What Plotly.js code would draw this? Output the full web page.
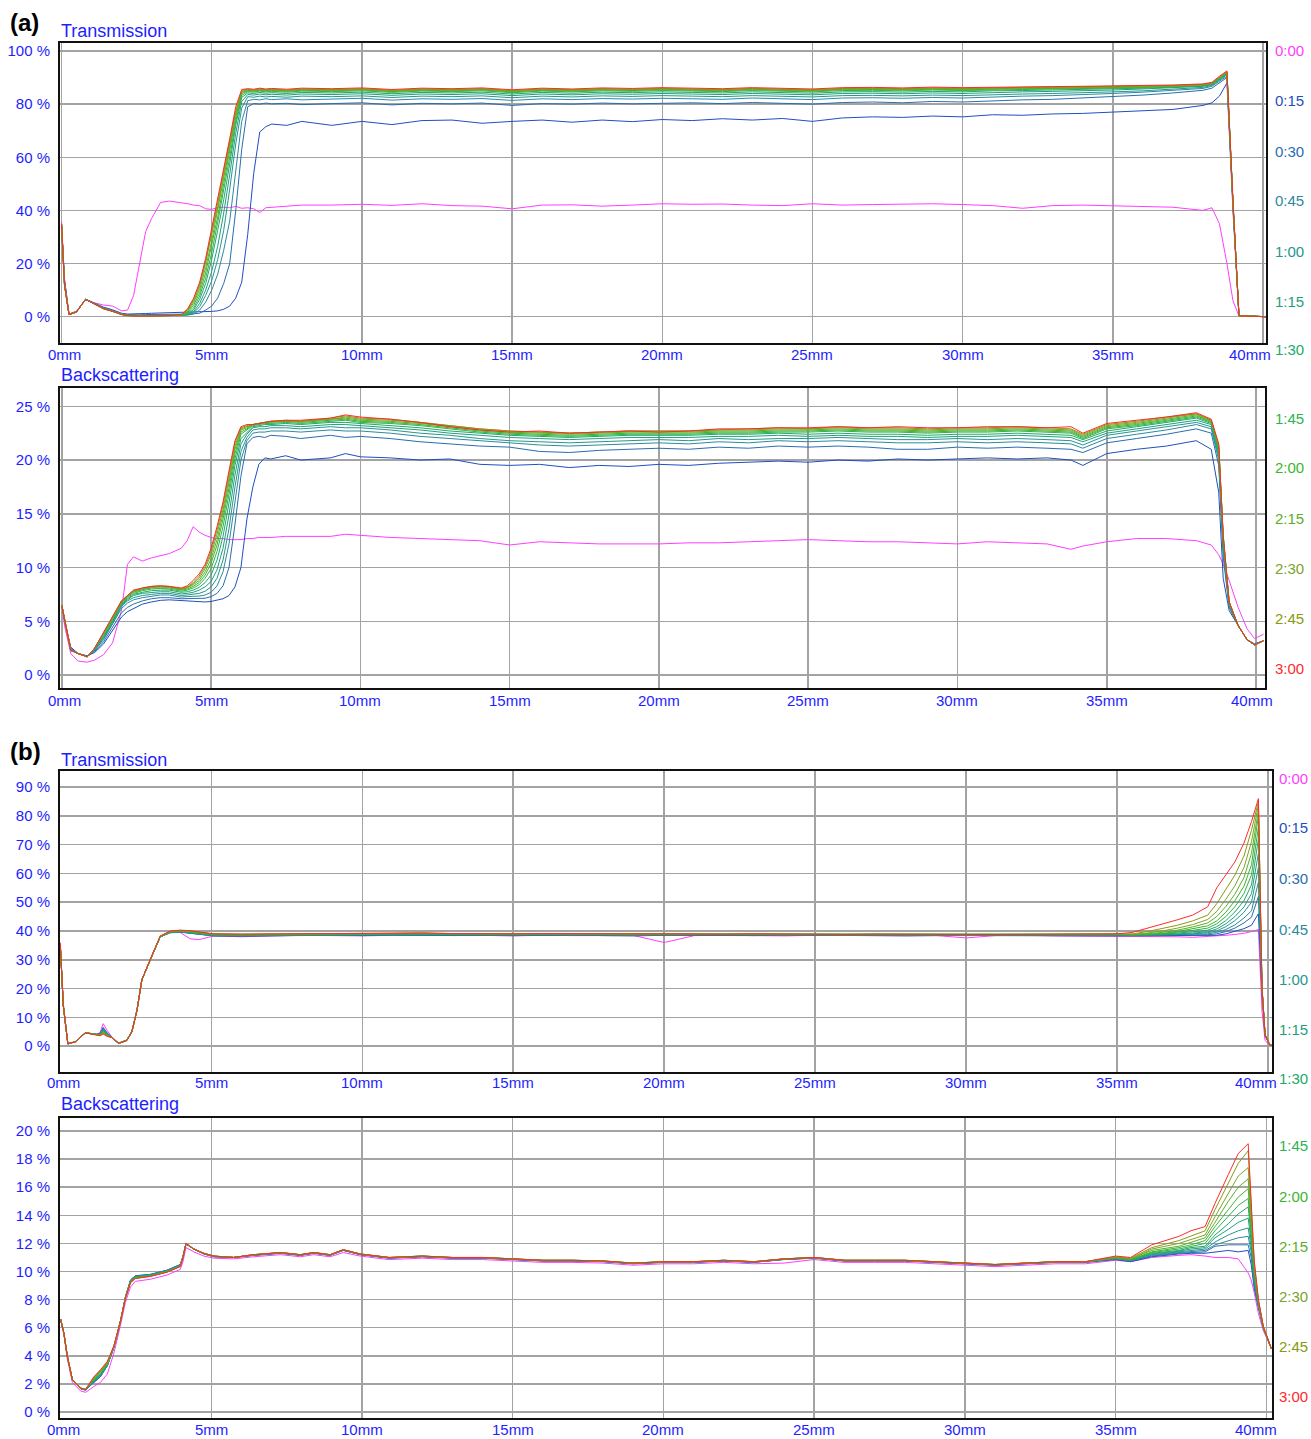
<!DOCTYPE html>
<html><head><meta charset="utf-8">
<script src="https://cdn.plot.ly/plotly-3.0.1.min.js"></script>
<style>html,body{margin:0;padding:0;background:#fff}#chart{width:1311px;height:1439px}</style>
</head><body><div id="chart"></div>
<script>
const TIME_LABELS = ['0:00','0:15','0:30','0:45','1:00','1:15','1:30','1:45','2:00','2:15','2:30','2:45','3:00'];
const SERIES_COLORS = ['#ff3dff','#1f4fbf','#2a6db0','#2d8a9e','#26968f','#1fa07d','#22a868','#2db34f','#3cb52a','#5cae2a','#7aa42a','#8a9a10','#ff2a2a'];
const X_TICKS = [0,5,10,15,20,25,30,35,40];
const X_TICK_TEXT = ['0mm','5mm','10mm','15mm','20mm','25mm','30mm','35mm','40mm'];
const Y_TICKS_AT = [0,20,40,60,80,100];
const Y_TICKS_AB = [0,5,10,15,20,25];
const Y_TICKS_BT = [0,10,20,30,40,50,60,70,80,90];
const Y_TICKS_BB = [0,2,4,6,8,10,12,14,16,18,20];

// ---------- (a) Transmission ----------
const aT_x = [0,0.1,0.25,0.5,0.8,1.1,1.4,1.7, 2.0,2.2,2.4,2.6,2.8,3.0,3.3,3.6,
 4.0,4.2,4.4,4.6,4.8,5.0,5.2,5.4,5.6,5.8,6.0,6.2,6.4,6.6,6.8,7.0, 7.5,8,
 9,10,11,12,13,14,15,16,17,18,19,20,21,22,23,24,25,26,27,28,29,30,31,32,33,34,35,36,37,38,
 38.3,38.55,38.8,39.0,39.2,40.1];
const aT_000 = [36,14,1,2,6.5,5.2,4.4,4.0, 2.2,2.5,8,20,32,37,43,43.5,
 43,42.5,42,41.8,40.6,40.4,41,41.2,41,41.5,40.8,41,40.6,39.2,41,41.2, 41.5,42,
 42,42.3,41.9,42.5,41.8,41.6,40.6,42,42.1,41.6,42,42.5,42.3,42.4,42,41.8,42.5,42,42.2,42.3,42.5,42.2,41.8,40.8,41.8,42,41.8,41.5,41.2,40,
 41,35,20,6,0.3,0];
const aT_015 = [35,14,1,2,6.6,5,3.6,2.6, 1.3,1.0,1.0,1.1,1.2,1.3,1.4,1.5,
 1.5,1.6,1.7,1.8,1.9,2,2.2,2.8,4,7,13,31,54,69.5,71.5,72.5, 72,73.5,
 72,73.5,72.3,73.8,74,72.8,73.5,74,73.2,74,73.4,74.2,73.8,74.5,74,74.6,73.5,74.8,75.2,75,75.5,75.2,76,75.8,76.3,76.5,77,77.4,78,79.5,
 80.5,83,88,40,0.5,0];
const aT_030 = [35,13,0.9,1.9,6.5,4.9,3.3,2.3, 1.1,0.8,0.7,0.7,0.8,0.8,0.9,1.0,
 1.0,1.0,1.1,1.3,2.5,4,7,12.5,20,40,63,79,80.2,80,80.4,80.1, 80.3,79.8,
 80.2,80.5,79.7,80.3,80.1,80.4,79.5,80.2,80,80.4,80.1,80.3,80.5,80.2,80.6,80.3,80,80.6,80.8,80.5,81,80.8,81.3,81.6,81.8,82.3,82.8,83.4,84.2,85.2,
 86,88,90,42,0.4,0];
const aT_045 = [35,12.5,0.8,1.8,6.5,4.8,3.2,2.2, 1.0,0.6,0.5,0.4,0.4,0.4,0.5,0.6,
 0.6,0.6,1,2.5,5.5,10,16,25,36,56,73.5,81.3,81.8,81.6,82,81.7, 82,81.6,
 81.9,82.2,81.5,82,81.8,82.1,81.4,82,81.7,82.1,81.9,82.2,82,81.8,82.3,82,81.7,82.3,82.4,82.2,82.5,82.3,82.7,83,83.2,83.5,84,84.5,85.1,85.9,
 86.7,88.5,90.5,42,0.4,0];
const aT_100 = [35,12,0.8,1.8,6.5,4.8,3.2,2.2, 1.0,0.6,0.4,0.4,0.3,0.4,0.4,0.5,
 0.6,0.7,1.4,3.8,8,13.5,21.5,32.5,48,65,78.5,82.8,82.6,83,82.7,82.9, 82.6,83,
 82.8,83.1,82.5,83,82.8,83.1,82.4,83,82.7,83.1,82.9,83.2,83,82.8,83.2,83,82.7,83.2,83.3,83.1,83.4,83.2,83.6,83.8,84,84.2,84.6,85,85.6,86.3,
 87,89,91,43,0.4,0];
const aT_115 = [35,12,0.8,1.8,6.5,4.8,3.1,2.1, 0.9,0.6,0.4,0.3,0.3,0.3,0.4,0.5,
 0.6,0.8,1.9,5,10,17,26.5,39,53.5,69,81,83.6,83.4,83.8,83.5,83.7, 83.4,83.8,
 83.6,83.9,83.3,83.8,83.6,83.9,83.2,83.8,83.5,83.9,83.7,84,83.8,83.6,84,83.8,83.5,84,84.1,83.9,84.2,84,84.4,84.6,84.8,85,85.3,85.7,86.2,86.7,
 87.3,89.3,91.3,43,0.3,0];
const aT_130 = [35,12,0.8,1.8,6.5,4.8,3.1,2.1, 0.9,0.5,0.3,0.3,0.3,0.3,0.4,0.5,
 0.6,0.9,2.6,6.5,12.5,21.5,32.5,44,57.5,72,82.5,84.2,84,84.4,84.1,84.3, 84,84.4,
 84.2,84.5,83.9,84.4,84.2,84.5,83.8,84.4,84.1,84.5,84.3,84.6,84.4,84.2,84.6,84.4,84.1,84.6,84.7,84.5,84.8,84.6,85,85.1,85.3,85.5,85.7,86,86.4,86.9,
 87.5,89.5,91.5,43,0.3,0];
const aT_145 = [35,12,0.8,1.8,6.5,4.8,3.1,2.1, 0.9,0.5,0.3,0.3,0.3,0.3,0.4,0.5,
 0.6,1.2,3.3,7.8,14.5,24,35.5,47.5,60,73.5,83.3,84.7,84.5,84.9,84.6,84.8, 84.5,84.9,
 84.7,85,84.4,84.9,84.7,85,84.3,84.9,84.6,85,84.8,85.1,84.9,84.7,85.1,84.9,84.6,85.1,85.2,85,85.3,85.1,85.4,85.5,85.7,85.8,86,86.3,86.6,87,
 87.6,89.7,91.7,43,0.3,0];
const aT_200 = [35,12,0.8,1.8,6.5,4.8,3.0,2.1, 0.9,0.5,0.3,0.2,0.3,0.3,0.3,0.5,
 0.6,1.6,4.3,9,16.5,26.5,37.5,50,62.5,75,84,85,84.8,85.2,84.9,85.1, 84.8,85.2,
 85,85.3,84.7,85.2,85,85.3,84.6,85.2,84.9,85.3,85.1,85.4,85.2,85,85.4,85.2,84.9,85.4,85.5,85.3,85.6,85.4,85.7,85.8,85.9,86,86.2,86.4,86.7,87.1,
 87.7,89.8,91.8,43,0.3,0];
const aT_215 = [35,12,0.8,1.8,6.5,4.8,3.0,2.0, 0.9,0.5,0.3,0.2,0.2,0.3,0.3,0.4,
 0.6,2,5.2,10.3,18.5,28.5,40,52,64,76,84.4,85.2,85,85.4,85.1,85.3, 85,85.4,
 85.2,85.5,84.9,85.4,85.2,85.5,84.8,85.4,85.1,85.5,85.3,85.6,85.4,85.2,85.6,85.4,85.1,85.6,85.7,85.5,85.8,85.6,85.9,86,86.1,86.2,86.3,86.5,86.8,87.2,
 87.8,90,92,43,0.3,0];
const aT_230 = [35,12,0.8,1.8,6.5,4.8,3.0,2.0, 0.8,0.4,0.2,0.2,0.2,0.2,0.3,0.4,
 0.7,2.4,5.9,11.4,20.5,30.5,41.5,53.5,65,77,84.8,85.4,85.2,85.6,85.3,85.5, 85.2,85.6,
 85.4,85.7,85.1,85.6,85.4,85.7,85,85.6,85.3,85.7,85.5,85.8,85.6,85.4,85.8,85.6,85.3,85.8,85.9,85.7,86,85.8,86.1,86.2,86.3,86.4,86.5,86.6,86.9,87.3,
 87.9,90,92,43,0.3,0];
const aT_245 = [35,12,0.8,1.8,6.5,4.8,3.0,2.0, 0.8,0.4,0.2,0.2,0.2,0.2,0.3,0.4,
 0.7,2.7,6.5,12.2,21,31.5,43,54.8,66,77.5,85.2,85.6,85.3,85.7,85.4,85.6, 85.3,85.7,
 85.5,85.8,85.2,85.7,85.5,85.8,85.1,85.7,85.4,85.8,85.6,85.9,85.7,85.5,85.9,85.7,85.4,85.9,86,85.8,86.1,85.9,86.2,86.3,86.4,86.5,86.6,86.7,87,87.4,
 88,90.2,92.2,43,0.3,0];
const aT_300 = [35,12,0.8,1.8,6.5,4.8,3.0,2.0, 0.8,0.4,0.2,0.2,0.2,0.2,0.3,0.4,
 0.8,3,7,13,22,33,44,56,67,79,85.5,85.8,85.6,86,85.7,85.9, 85.6,86,
 85.8,86.1,85.5,86,85.8,86.1,85.4,86,85.7,86.1,85.9,86.2,86,85.8,86.2,86,85.7,86.2,86.3,86.1,86.4,86.2,86.4,86.5,86.6,86.7,86.8,86.9,87.2,87.6,
 88.2,90.5,92.5,44,0.3,0];

// ---------- (a) Backscattering ----------
const aB_x = [0,0.1,0.3,0.55,0.85,1.1,1.4,1.7, 2.0,2.2,2.4,2.7,3.0,3.3,3.6,
 4.0,4.2,4.4,4.6,4.8,5.0,5.2,5.4,5.6,5.8,6.0,6.2,6.4,6.6,6.8,7.0, 7.5,8, 9,9.5,10,
 11,12,13,14,15,16,17,18,19,20,21,22,23,24,25,26,27,28,29,30,31,32,33, 33.8,34.2, 35,36,37,38,
 38.5,38.75,38.9,39.1,39.4,39.7,39.95,40.25];
const aB_000 = [6.5,4.5,2.0,1.3,1.2,1.4,1.9,3.0, 6.0,10.3,11.0,10.6,10.9,11.1,11.3,
 11.8,12.5,13.8,13.3,13.0,12.8,12.7,12.7,12.6,12.6,12.6,12.7,12.7,12.8,12.8,12.8, 12.9,12.9, 12.9,13.1,13.0,
 12.8,12.7,12.6,12.5,12.1,12.4,12.3,12.2,12.2,12.2,12.3,12.3,12.4,12.5,12.6,12.5,12.4,12.4,12.3,12.2,12.4,12.3,12.2, 11.7,12.0, 12.4,12.7,12.7,12.5,
 12.1,11.2,10.3,8.8,6.3,4.3,3.4,3.8];
const aB_015 = [6.5,5,2.6,2.0,1.8,2.1,2.9,4.1, 5.4,5.9,6.2,6.6,6.8,6.95,7.0,
 6.95,6.9,6.9,6.85,6.8,6.85,6.95,7.1,7.4,8.2,10,14.5,17.5,19.6,20.2,20.1, 20.4,20.0, 20.2,20.6,20.3,
 20.2,20.0,20.1,19.6,19.5,19.6,19.3,19.5,19.4,19.6,19.5,19.7,19.8,19.9,19.8,20.0,19.9,20.1,20.0,20.1,20.2,20.1,20.2, 20.0,19.5, 20.6,21.0,21.3,21.8,
 21.0,17,9,6,4.6,3.3,2.9,3.2];
const aB_030 = [6.5,5,2.5,2.0,1.75,2.2,3.1,4.4, 5.8,6.3,6.6,6.9,7.1,7.2,7.2,
 7.1,7.1,7.1,7.1,7.15,7.3,7.6,8.3,10,14,18.5,21.5,22.1,22.2,22.1,22.3, 22.2,22.0, 22.3,22.1,22.2,
 22.0,21.7,21.5,21.3,21.2,20.8,20.7,20.9,21.0,21.1,21.0,21.2,21.1,21.3,21.2,21.3,21.2,21.0,21.0,21.2,21.1,21.2,21.1, 21.0,20.7, 21.6,22.0,22.4,22.9,
 22.5,19.5,11,6.3,4.6,3.3,2.85,3.2];
const aB_045 = [6.5,5,2.4,2.0,1.75,2.3,3.3,4.7, 6.2,6.7,7.0,7.2,7.35,7.45,7.45,
 7.25,7.3,7.3,7.35,7.45,7.7,8.3,9.6,12.2,16.2,20,21.8,22.5,22.6,22.6,22.7, 22.7,22.6, 22.8,22.7,22.7,
 22.5,22.2,22.0,21.8,21.6,21.4,21.3,21.4,21.5,21.6,21.5,21.7,21.6,21.8,21.7,21.8,21.7,21.6,21.6,21.7,21.6,21.7,21.6, 21.5,21.1, 22.0,22.4,22.8,23.3,
 22.9,20,11.5,6.4,4.6,3.3,2.85,3.2];
const aB_100 = [6.5,5,2.4,2.0,1.7,2.3,3.4,4.8, 6.4,6.9,7.2,7.4,7.5,7.6,7.6,
 7.4,7.45,7.5,7.6,7.8,8.2,9,10.7,13.6,17.5,20.8,22.1,22.8,22.9,22.9,23.0, 23.0,22.9, 23.1,23.0,23.0,
 22.8,22.5,22.3,22.0,21.8,21.7,21.6,21.7,21.8,21.9,21.8,22.0,21.9,22.0,22.0,22.1,22.0,21.9,21.9,22.0,21.9,22.0,21.9, 21.8,21.4, 22.3,22.7,23.1,23.5,
 23.1,20.3,12,6.5,4.6,3.3,2.85,3.2];
const aB_115 = [6.5,5,2.3,2.0,1.7,2.4,3.5,4.9, 6.5,7.0,7.4,7.6,7.7,7.75,7.75,
 7.55,7.6,7.7,7.9,8.2,8.7,9.8,11.8,14.9,18.6,21.5,22.4,23.0,23.1,23.1,23.2, 23.2,23.1, 23.3,23.3,23.2,
 23.0,22.8,22.5,22.3,22.1,22.0,21.9,22.0,22.1,22.1,22.1,22.2,22.2,22.3,22.2,22.3,22.2,22.2,22.1,22.2,22.2,22.3,22.2, 22.1,21.7, 22.5,22.9,23.3,23.7,
 23.3,20.6,12.3,6.6,4.6,3.3,2.8,3.2];
const aB_130 = [6.5,5,2.3,2.0,1.7,2.4,3.6,5.0, 6.6,7.1,7.5,7.7,7.85,7.9,7.9,
 7.7,7.75,7.9,8.15,8.6,9.3,10.7,12.9,16,19.5,22,22.6,23.1,23.2,23.3,23.3, 23.4,23.3, 23.5,23.5,23.4,
 23.2,23.0,22.7,22.5,22.3,22.2,22.1,22.2,22.3,22.3,22.3,22.4,22.4,22.5,22.4,22.5,22.4,22.4,22.3,22.4,22.4,22.5,22.4, 22.3,21.9, 22.7,23.1,23.5,23.9,
 23.4,20.8,12.5,6.7,4.6,3.3,2.8,3.2];
const aB_145 = [6.5,5,2.3,2.0,1.7,2.5,3.7,5.1, 6.7,7.2,7.6,7.85,8.0,8.05,8.0,
 7.8,7.9,8.1,8.4,9.0,9.9,11.5,13.8,16.8,20.1,22.4,22.8,23.2,23.3,23.4,23.4, 23.5,23.4, 23.6,23.7,23.5,
 23.4,23.2,22.9,22.6,22.4,22.3,22.2,22.3,22.4,22.4,22.4,22.5,22.5,22.6,22.6,22.7,22.6,22.6,22.5,22.6,22.6,22.7,22.6, 22.5,22.0, 22.9,23.2,23.6,24.0,
 23.5,21,12.7,6.7,4.6,3.3,2.8,3.2];
const aB_200 = [6.5,5,2.3,2.0,1.7,2.5,3.8,5.2, 6.8,7.3,7.7,7.95,8.1,8.1,8.1,
 7.9,8.0,8.25,8.6,9.3,10.4,12.1,14.5,17.4,20.6,22.6,22.9,23.3,23.4,23.5,23.5, 23.6,23.5, 23.7,23.8,23.6,
 23.5,23.3,23.0,22.7,22.5,22.4,22.3,22.4,22.5,22.5,22.5,22.6,22.6,22.7,22.7,22.8,22.7,22.7,22.6,22.7,22.7,22.8,22.7, 22.6,22.1, 23.0,23.3,23.7,24.1,
 23.6,21.1,12.8,6.8,4.6,3.3,2.8,3.2];
const aB_215 = [6.5,5,2.3,2.0,1.7,2.5,3.9,5.3, 6.8,7.3,7.75,8.0,8.15,8.2,8.15,
 7.95,8.1,8.4,8.8,9.6,10.8,12.6,15,17.9,21,22.8,23,23.3,23.4,23.5,23.6, 23.6,23.6, 23.8,23.9,23.7,
 23.6,23.4,23.1,22.8,22.6,22.5,22.4,22.5,22.6,22.6,22.6,22.7,22.7,22.8,22.8,22.9,22.8,22.8,22.7,22.8,22.8,22.9,22.8, 22.7,22.2, 23.1,23.4,23.8,24.2,
 23.6,21.2,12.9,6.8,4.6,3.3,2.8,3.2];
const aB_230 = [6.5,5,2.3,2.0,1.7,2.5,3.9,5.3, 6.9,7.35,7.8,8.05,8.2,8.25,8.2,
 8.0,8.15,8.5,9.0,9.9,11.2,13.1,15.4,18.3,21.3,22.9,23.1,23.3,23.4,23.5,23.6, 23.6,23.6, 23.8,24.0,23.8,
 23.7,23.5,23.2,22.9,22.7,22.6,22.5,22.6,22.7,22.7,22.7,22.8,22.8,22.9,22.9,23.0,22.9,22.9,22.8,22.9,22.9,23.0,22.9, 22.8,22.3, 23.2,23.5,23.9,24.3,
 23.7,21.3,13,6.8,4.6,3.3,2.8,3.2];
const aB_245 = [6.5,5,2.3,2.0,1.7,2.5,4.0,5.4, 6.9,7.4,7.85,8.1,8.25,8.3,8.25,
 8.05,8.2,8.6,9.2,10.1,11.5,13.5,15.8,18.7,21.6,23,23.2,23.3,23.4,23.5,23.6, 23.7,23.6, 23.9,24.1,23.9,
 23.8,23.5,23.2,22.9,22.7,22.6,22.5,22.6,22.7,22.7,22.7,22.8,22.9,23.0,22.9,23.1,23.0,23.0,22.9,23.0,23.0,23.1,23.0, 22.9,22.4, 23.3,23.6,24.0,24.3,
 23.7,21.4,13,6.8,4.6,3.3,2.8,3.2];
const aB_300 = [6.5,5,2.3,2.0,1.7,2.5,4.0,5.4, 6.9,7.4,7.9,8.1,8.25,8.3,8.25,
 8.1,8.3,8.8,9.4,10.3,11.8,13.8,16.1,19,21.8,23.1,23.3,23.3,23.4,23.5,23.6, 23.7,23.7, 23.9,24.2,24.0,
 23.8,23.5,23.1,22.8,22.6,22.7,22.5,22.6,22.7,22.6,22.7,22.9,22.9,23.0,23.0,23.1,23.0,23.1,23.0,23.0,23.1,23.1,23.0, 23.1,22.5, 23.4,23.7,24.0,24.4,
 23.8,21.5,13,6.8,4.6,3.3,2.8,3.2];

// ---------- (b) Transmission ----------
const bT_x = [0,0.1,0.25,0.5,0.83,1.05,1.2,1.32,1.42,1.55,1.7,1.93,2.2,2.37,2.54,2.7,2.98,3.31,3.64,3.97,4.3,4.6,5.08,
 6,7,8,9,10,11,12,13,14,15,16,17,18,19,20,21,22,23,24,25,26,27,28,29,30,31,32,33,34,35,
 35.5,36,36.5,37,37.5,38,38.3,38.6,38.9,39.2,39.45,39.68, 39.8,39.9,40.05,40.13];
const bT_000 = [36,15,0.8,1.5,4.6,4.3,4.0,4.8,7.8,5.5,3.2,1.0,2.0,5.0,12.5,23,30,38,39.4,39.5,37.3,37.0,38.3,
 38.0,38.3,38.5,38.4,38.3,38.5,38.6,38.4,38.5,38.3,38.5,38.4,38.5,38.4,36.0,38.4,38.5,38.4,38.3,38.5,38.4,38.5,38.4,38.4,37.6,38.4,38.5,38.3,38.2,38.3,
 38.3,38.2,38.1,38.0,37.8,38.0,38.3,38.5,38.8,39.2,39.8,40.5, 12,2,0.3,0.3];
const bT_015 = [35,14,0.8,1.6,4.7,4.4,4.1,4.4,6.5,4.6,3.1,1.1,2.1,5.1,12.6,23,30,38,39.4,39.6,39.2,38.8,38.3,
 38.2,38.3,38.5,38.6,38.4,38.6,38.5,38.4,38.5,38.4,38.5,38.6,38.4,38.3,38.5,38.4,38.5,38.4,38.6,38.5,38.4,38.5,38.3,38.4,38.6,38.4,38.3,38.4,38.3,38.3,
 38.3,38.3,38.3,38.4,38.4,38.3,38.5,39,39.8,40.8,42,46, 18,3.5,0.5,0.3];
const bT_030 = [35,14,0.8,1.6,4.7,4.4,4.1,4.3,6.2,4.4,3.1,1.0,2.1,5.0,12.5,23,30,38,39.5,39.7,39.3,38.9,38.3,
 38.3,38.4,38.5,38.6,38.5,38.6,38.6,38.5,38.5,38.5,38.6,38.6,38.5,38.4,38.5,38.5,38.5,38.5,38.6,38.5,38.5,38.5,38.4,38.5,38.6,38.5,38.4,38.5,38.4,38.4,
 38.4,38.4,38.4,38.5,38.6,38.7,39.0,39.8,41,42.8,44.8,52, 19,3.8,0.5,0.3];
const bT_045 = [35,14,0.8,1.5,4.6,4.3,4.0,4.2,6.0,4.3,3.0,1.0,2.0,5.0,12.5,23,30,38,39.5,39.7,39.3,38.9,38.4,
 38.4,38.5,38.6,38.7,38.6,38.7,38.7,38.6,38.6,38.6,38.7,38.7,38.6,38.5,38.6,38.6,38.6,38.6,38.7,38.6,38.6,38.6,38.5,38.6,38.7,38.6,38.5,38.6,38.5,38.5,
 38.4,38.5,38.5,38.6,38.8,39.0,39.5,40.5,42.1,44.5,47,57, 19.5,3.9,0.5,0.3];
const bT_100 = [35,14,0.8,1.5,4.6,4.3,4.0,4.1,5.8,4.2,3.0,1.0,2.0,5.0,12.5,23,30,38,39.5,39.8,39.4,39.0,38.5,
 38.5,38.6,38.7,38.8,38.7,38.8,38.8,38.7,38.7,38.7,38.8,38.7,38.7,38.6,38.7,38.6,38.7,38.7,38.7,38.7,38.6,38.7,38.6,38.6,38.7,38.6,38.6,38.6,38.6,38.6,
 38.4,38.5,38.6,38.8,39.0,39.4,40.0,41.5,43.6,46.5,50,62, 19.8,3.9,0.5,0.3];
const bT_115 = [35,14,0.8,1.5,4.6,4.3,4.0,4.0,5.6,4.1,3.0,1.0,2.0,5.0,12.5,23,30,38,39.6,39.8,39.5,39.1,38.6,
 38.5,38.7,38.8,38.9,38.8,38.9,38.9,38.8,38.8,38.7,38.8,38.8,38.7,38.7,38.7,38.7,38.7,38.7,38.7,38.7,38.6,38.7,38.6,38.7,38.7,38.6,38.6,38.7,38.6,38.7,
 38.5,38.6,38.7,39.0,39.3,39.7,40.7,42.5,45,48.3,53,67, 20,4,0.5,0.3];
const bT_130 = [35,14,0.8,1.5,4.6,4.3,4.0,3.9,5.4,4.0,3.0,1.0,2.0,5.0,12.5,23,30,38,39.6,39.9,39.6,39.2,38.7,
 38.6,38.7,38.8,38.9,38.9,38.9,39.0,38.9,38.8,38.8,38.9,38.8,38.8,38.7,38.8,38.7,38.8,38.8,38.7,38.8,38.7,38.7,38.7,38.7,38.7,38.7,38.7,38.7,38.7,38.7,
 38.5,38.7,38.9,39.2,39.7,40.3,41.5,43.6,46.6,50.5,56,72, 20,4,0.5,0.3];
const bT_145 = [35,14,0.8,1.5,4.6,4.3,4.0,3.9,5.2,3.9,3.0,1.0,2.0,5.0,12.5,23,30,38,39.7,39.9,39.7,39.3,38.7,
 38.6,38.8,38.9,39.0,39.0,39.0,39.1,38.9,38.9,38.8,38.9,38.9,38.8,38.8,38.8,38.8,38.8,38.8,38.8,38.8,38.7,38.8,38.7,38.8,38.7,38.7,38.8,38.8,38.8,38.8,
 38.6,38.8,39.0,39.5,40.2,41,42.5,45,48.4,53,59.5,76, 20,4,0.5,0.3];
const bT_200 = [35,14,0.8,1.5,4.6,4.3,4.0,3.8,5.0,3.8,3.0,1.0,2.0,5.0,12.5,23,30,38.1,39.7,40.0,39.8,39.4,38.8,
 38.7,38.8,38.9,39.0,39.1,39.0,39.1,39.0,38.9,38.9,39.0,38.9,38.8,38.9,38.9,38.8,38.8,38.9,38.8,38.8,38.7,38.8,38.7,38.8,38.7,38.7,38.8,38.8,38.8,38.9,
 38.6,38.9,39.2,39.8,40.7,41.8,43.5,46.5,50.5,55.5,63,80, 20,4,0.5,0.3];
const bT_215 = [35,14,0.8,1.5,4.6,4.3,4.0,3.8,4.8,3.7,3.0,0.9,2.0,5.0,12.5,23,30,38.1,39.8,40.1,39.9,39.5,38.9,
 38.8,38.9,39.0,39.1,39.2,39.1,39.2,39.0,39.0,38.9,39.0,38.9,38.9,38.9,38.9,38.9,38.9,38.9,38.9,38.9,38.8,38.8,38.8,38.8,38.8,38.8,38.8,38.9,38.8,38.9,
 38.7,39.0,39.5,40.3,41.4,42.8,45,48.5,52.8,58.5,67,82, 20,4,0.5,0.3];
const bT_230 = [35,14,0.8,1.5,4.6,4.3,3.9,3.7,4.6,3.6,3.0,0.9,1.9,4.9,12.4,23,30,38.2,39.8,40.2,40.0,39.5,38.9,
 38.8,38.9,39.0,39.1,39.2,39.1,39.2,39.1,39.0,39.0,39.0,39.0,38.9,38.9,39.0,38.9,38.9,38.9,38.9,38.9,38.8,38.9,38.8,38.9,38.8,38.8,38.9,38.9,38.9,38.9,
 38.8,39.3,40.0,41.0,42.2,44,46.8,51,55.7,62,71,84, 20,4,0.5,0.3];
const bT_245 = [35,14,0.8,1.5,4.6,4.2,3.9,3.7,4.4,3.5,3.0,0.9,1.9,4.9,12.4,23,30.1,38.2,39.9,40.2,40.0,39.6,39.0,
 38.9,39.0,39.1,39.2,39.3,39.2,39.3,39.1,39.0,39.0,39.1,39.0,38.9,39.0,39.0,38.9,38.9,39.0,38.9,38.9,38.8,38.9,38.8,38.9,38.8,38.8,38.9,38.9,38.9,39.0,
 39.0,39.8,40.8,42.0,43.5,45.5,49.5,54.5,59.4,66,75,85, 20,4,0.5,0.3];
const bT_300 = [35.8,14,0.8,1.5,4.6,4.2,3.9,3.6,4.2,3.4,3.0,0.9,1.9,4.9,12.4,23,30.2,38.3,40.0,40.3,40.1,39.6,39.0,
 38.9,39.0,39.1,39.2,39.3,39.2,39.3,39.1,39.0,39.0,39.1,39.0,38.9,39.0,39.0,38.9,38.9,39.0,38.9,38.9,38.8,38.9,38.8,38.9,38.8,38.8,38.9,38.9,38.9,39.0,
 39.5,40.9,42.3,43.9,45.5,48.4,55,59.5,64,70.5,78,86, 20,4,0.5,0.3];

// ---------- (b) Backscattering ----------
const bB_x = [0,0.11,0.22,0.39,0.66,0.83,1.1,1.32,1.55,1.77,1.99,2.15,2.32,2.48,2.98,3.53,3.97,4.06,4.16,4.42,4.75,5.08,5.74,6.4,7.3,7.95,8.4,8.94,9.38,9.94,10.9,
 12,13,14,15,16,17,18,19,20,21,22,23,24,25,26,27,28,29,30,31,32,33,34,35,
 35.5,36.2,37.1,37.5,37.97,38.3,38.74,39.07,39.4, 39.5,39.6,39.74,39.9,40.17];
const bB_000 = [6.6,5.5,3.8,2.1,1.5,1.4,1.8,2.1,2.7,4.2,6.2,7.8,8.9,9.3,9.45,9.75,10.15,10.7,11.7,11.4,11.1,10.95,10.9,11.05,11.2,11.05,11.2,11.05,11.35,11.1,10.85,
 10.95,10.85,10.85,10.75,10.65,10.65,10.6,10.45,10.55,10.55,10.65,10.55,10.6,10.85,10.65,10.65,10.65,10.55,10.45,10.35,10.45,10.55,10.55,10.8,
 10.7,11.0,11.15,11.2,11.1,11.0,11.0,10.9,9.9, 9.4,8.5,7.0,5.8,4.5];
const bB_015 = [6.6,5.6,4.0,2.3,1.65,1.55,2.1,2.5,3.3,4.6,6.5,8.2,9.4,9.7,9.8,10.1,10.5,11.1,11.95,11.6,11.25,11.05,11.0,11.15,11.3,11.15,11.3,11.15,11.5,11.2,10.95,
 11.05,10.95,10.95,10.85,10.75,10.75,10.7,10.55,10.65,10.65,10.75,10.65,10.85,10.95,10.75,10.75,10.75,10.65,10.55,10.45,10.55,10.65,10.65,10.85,
 10.7,11.05,11.25,11.3,11.3,11.4,11.5,11.4,11.5, 10.5,8.8,7.4,6.0,4.5];
const bB_030 = [6.6,5.6,4.0,2.3,1.68,1.56,2.1,2.5,3.3,4.6,6.5,8.2,9.4,9.68,9.79,10.08,10.48,11.08,11.96,11.6,11.26,11.06,11.0,11.16,11.31,11.16,11.31,11.16,11.51,11.21,10.96,
 11.06,10.96,10.96,10.86,10.76,10.76,10.71,10.56,10.66,10.66,10.76,10.66,10.86,10.96,10.76,10.76,10.76,10.66,10.56,10.46,10.56,10.66,10.66,10.9,
 10.75,11.1,11.3,11.35,11.4,11.8,11.9,11.9,11.9, 11.0,9.0,7.5,6.0,4.5];
const bB_045 = [6.6,5.6,4.0,2.3,1.68,1.57,2.15,2.55,3.3,4.6,6.5,8.15,9.35,9.66,9.77,10.06,10.46,11.06,11.97,11.6,11.27,11.07,11.0,11.17,11.32,11.17,11.32,11.17,11.52,11.22,10.97,
 11.07,10.97,10.97,10.87,10.77,10.77,10.72,10.57,10.67,10.67,10.77,10.67,10.87,10.97,10.77,10.77,10.77,10.67,10.57,10.47,10.57,10.67,10.67,10.92,
 10.75,11.15,11.35,11.4,11.5,11.9,12.2,12.4,12.5, 11.4,9.2,7.5,6.0,4.5];
const bB_100 = [6.6,5.6,4.0,2.3,1.69,1.58,2.2,2.6,3.3,4.62,6.5,8.15,9.35,9.64,9.76,10.05,10.45,11.05,11.97,11.6,11.27,11.07,11.0,11.17,11.32,11.17,11.32,11.17,11.52,11.22,10.97,
 11.07,10.97,10.97,10.87,10.77,10.77,10.72,10.57,10.67,10.67,10.77,10.67,10.87,10.97,10.77,10.77,10.77,10.67,10.57,10.47,10.57,10.67,10.67,10.93,
 10.8,11.2,11.4,11.5,11.6,12.1,12.6,12.9,13.1, 11.7,9.4,7.6,6.0,4.5];
const bB_115 = [6.6,5.6,4.0,2.3,1.69,1.58,2.2,2.65,3.35,4.63,6.5,8.13,9.3,9.62,9.74,10.03,10.43,11.04,11.98,11.6,11.28,11.08,11.0,11.18,11.33,11.18,11.33,11.18,11.53,11.23,10.98,
 11.08,10.98,10.98,10.88,10.78,10.78,10.73,10.58,10.68,10.68,10.78,10.68,10.88,10.98,10.78,10.78,10.78,10.68,10.58,10.48,10.58,10.68,10.68,10.95,
 10.8,11.25,11.45,11.6,11.7,12.4,13.0,13.5,13.8, 12.1,9.6,7.6,6.0,4.5];
const bB_130 = [6.6,5.6,4.0,2.3,1.7,1.59,2.25,2.7,3.35,4.65,6.5,8.12,9.3,9.6,9.72,10.02,10.42,11.03,11.98,11.6,11.28,11.08,11.0,11.18,11.33,11.18,11.33,11.18,11.53,11.23,10.98,
 11.08,10.98,10.98,10.88,10.78,10.78,10.73,10.58,10.68,10.68,10.78,10.68,10.88,10.98,10.78,10.78,10.78,10.68,10.58,10.48,10.58,10.68,10.68,10.96,
 10.8,11.3,11.5,11.7,11.8,12.6,13.4,14.1,14.6, 12.5,9.8,7.7,6.0,4.5];
const bB_145 = [6.6,5.6,4.0,2.3,1.7,1.59,2.3,2.75,3.4,4.66,6.5,8.12,9.28,9.58,9.71,10.0,10.4,11.02,11.99,11.6,11.29,11.09,11.0,11.19,11.34,11.19,11.34,11.19,11.54,11.24,10.99,
 11.09,10.99,10.99,10.89,10.79,10.79,10.74,10.59,10.69,10.69,10.79,10.69,10.89,10.99,10.79,10.79,10.79,10.69,10.59,10.49,10.59,10.69,10.69,10.97,
 10.85,11.35,11.6,11.8,12.0,12.9,13.9,14.7,15.2, 12.8,9.9,7.7,6.0,4.5];
const bB_200 = [6.6,5.6,4.0,2.3,1.7,1.6,2.3,2.8,3.4,4.67,6.5,8.11,9.26,9.56,9.7,9.99,10.39,11.01,11.99,11.6,11.29,11.09,11.0,11.19,11.34,11.19,11.34,11.19,11.54,11.24,10.99,
 11.09,10.99,10.99,10.89,10.79,10.79,10.74,10.59,10.69,10.69,10.79,10.69,10.89,10.99,10.79,10.79,10.79,10.69,10.59,10.49,10.59,10.69,10.69,10.98,
 10.85,11.4,11.7,11.9,12.2,13.2,14.4,15.3,15.9, 13.2,10.0,7.8,6.0,4.5];
const bB_215 = [6.6,5.6,4.0,2.3,1.7,1.6,2.35,2.85,3.45,4.68,6.5,8.1,9.24,9.54,9.68,9.98,10.38,11.0,12.0,11.6,11.3,11.1,11.0,11.2,11.35,11.2,11.35,11.2,11.55,11.25,11.0,
 11.1,11.0,11.0,10.9,10.8,10.8,10.75,10.6,10.7,10.7,10.8,10.7,10.9,11.0,10.8,10.8,10.8,10.7,10.6,10.5,10.6,10.7,10.7,10.99,
 10.9,11.5,11.8,12.1,12.4,13.5,15.0,16.0,16.6, 13.6,10.2,7.8,6.1,4.5];
const bB_230 = [6.6,5.6,4.0,2.3,1.7,1.6,2.4,2.9,3.5,4.69,6.5,8.1,9.22,9.53,9.67,9.97,10.37,11.0,12.0,11.6,11.3,11.1,11.0,11.2,11.35,11.2,11.35,11.2,11.55,11.25,11.0,
 11.1,11.0,11.0,10.9,10.8,10.8,10.75,10.6,10.7,10.7,10.8,10.7,10.9,11.0,10.8,10.8,10.8,10.7,10.6,10.5,10.6,10.7,10.7,11.0,
 10.9,11.6,12.0,12.3,12.6,13.9,15.6,16.8,17.4, 14.0,10.4,7.9,6.1,4.5];
const bB_245 = [6.6,5.6,4.0,2.3,1.7,1.6,2.45,2.95,3.55,4.7,6.5,8.1,9.21,9.51,9.66,9.96,10.36,11.0,12.0,11.6,11.3,11.1,11.0,11.2,11.35,11.2,11.35,11.2,11.55,11.25,11.0,
 11.1,11.0,11.0,10.9,10.8,10.8,10.75,10.6,10.7,10.7,10.8,10.7,10.9,11.0,10.8,10.8,10.8,10.7,10.6,10.5,10.6,10.7,10.7,11.05,
 10.95,11.7,12.2,12.5,12.9,14.4,16.3,17.7,18.6, 14.5,10.6,7.9,6.1,4.5];
const bB_300 = [6.6,5.6,4.0,2.3,1.7,1.6,2.5,3.0,3.6,4.7,6.5,8.1,9.2,9.5,9.65,9.95,10.35,11.0,12.0,11.6,11.3,11.1,11.0,11.2,11.35,11.2,11.35,11.2,11.55,11.25,11.0,
 11.1,11.0,11.0,10.9,10.8,10.8,10.75,10.6,10.7,10.7,10.8,10.7,10.9,11.0,10.8,10.8,10.8,10.7,10.6,10.5,10.6,10.7,10.7,11.1,
 11.0,11.9,12.5,12.9,13.2,14.85,16.9,18.4,19.1, 14.9,10.8,8.0,6.1,4.5];

// ---------- figure ----------
const W = 1311, H = 1439;
const px = v => v / W, py = v => 1 - v / H;
const BLUE = '#1e1eff';
const FONT = 'Liberation Sans, Arial, Helvetica, sans-serif';

const panels = [
  {x: aT_x, ys: [aT_000,aT_015,aT_030,aT_045,aT_100,aT_115,aT_130,aT_145,aT_200,aT_215,aT_230,aT_245,aT_300],
   xr: [-0.05, 40.1], yr: [-9.9, 103], yt: Y_TICKS_AT, box: [60, 1266, 43, 343], lab: 354, r40: 1273},
  {x: aB_x, ys: [aB_000,aB_015,aB_030,aB_045,aB_100,aB_115,aB_130,aB_145,aB_200,aB_215,aB_230,aB_245,aB_300],
   xr: [-0.06, 40.3], yr: [-1.2, 26.7], yt: Y_TICKS_AB, box: [60, 1265, 388, 688], lab: 700, r40: 1275},
  {x: bT_x, ys: [bT_000,bT_015,bT_030,bT_045,bT_100,bT_115,bT_130,bT_145,bT_200,bT_215,bT_230,bT_245,bT_300],
   xr: [-0.01, 40.13], yr: [-9.0, 95.6], yt: Y_TICKS_BT, box: [60, 1272, 771, 1072], lab: 1082, r40: 1279},
  {x: bB_x, ys: [bB_000,bB_015,bB_030,bB_045,bB_100,bB_115,bB_130,bB_145,bB_200,bB_215,bB_230,bB_245,bB_300],
   xr: [-0.02, 40.19], yr: [-0.43, 20.93], yt: Y_TICKS_BB, box: [60, 1272, 1118, 1418], lab: 1429, r40: 1279}
];

const traces = [];
const layout = {
  width: W, height: H, margin: {l: 0, r: 0, t: 0, b: 0},
  paper_bgcolor: '#fff', plot_bgcolor: '#fff', showlegend: false,
  font: {family: FONT, size: 15, color: BLUE},
  annotations: []
};
const warn = [];
panels.forEach((p, k) => {
  const sx = k === 0 ? '' : String(k + 1);
  p.ys.forEach((y, i) => {
    if (y.length !== p.x.length) warn.push('p' + k + ' s' + i + ': ' + y.length + '/' + p.x.length);
    traces.push({type: 'scatter', mode: 'lines', x: p.x, y: y, xaxis: 'x' + sx, yaxis: 'y' + sx,
      line: {color: SERIES_COLORS[i], width: 1}, hoverinfo: 'skip'});
  });
  const [l, r, t, b] = p.box;
  layout['xaxis' + sx] = {
    domain: [px(l), px(r)], range: p.xr, anchor: 'y' + sx,
    tickmode: 'array', tickvals: X_TICKS, showticklabels: false,
    showgrid: true, gridcolor: '#a3a3a3', gridwidth: 1.5, zeroline: false,
    showline: true, mirror: true, linecolor: '#111', linewidth: 2, ticks: '', fixedrange: true
  };
  layout['yaxis' + sx] = {
    domain: [py(b), py(t)], range: p.yr, anchor: 'x' + sx,
    tickmode: 'array', tickvals: p.yt, ticktext: p.yt.map(v => v + ' %'),
    showgrid: true, gridcolor: '#a3a3a3', gridwidth: 1.5, zeroline: false,
    showline: true, mirror: true, linecolor: '#111', linewidth: 2, ticks: '',
    ticklabelstandoff: 5,
    tickfont: {family: FONT, size: 15, color: BLUE}, fixedrange: true
  };
  // x tick labels, drawn as text at each tick; the last one sits left of its gridline
  X_TICKS.forEach((v, j) => {
    const last = j === X_TICKS.length - 1;
    layout.annotations.push({
      xref: last ? 'paper' : 'x' + sx, yref: 'paper',
      x: last ? px(p.r40) : v, y: py(p.lab),
      xanchor: last ? 'right' : 'center', yanchor: 'middle', xshift: j === 0 ? 3 : 0,
      showarrow: false, text: X_TICK_TEXT[j], font: {family: FONT, size: 15, color: BLUE}
    });
  });
});

function txt(x, y, text, size, color, anchor) {
  layout.annotations.push({xref: 'paper', yref: 'paper', x: px(x), y: py(y),
    xanchor: anchor || 'left', yanchor: 'middle', showarrow: false, text: text,
    font: {family: FONT, size: size, color: color}});
}
txt(8, 22, '<b>(a)</b>', 24, '#000');
txt(59, 31, 'Transmission', 18, BLUE);
txt(59, 375, 'Backscattering', 18, BLUE);
txt(8, 751, '<b>(b)</b>', 24, '#000');
txt(59, 760, 'Transmission', 18, BLUE);
txt(59, 1104, 'Backscattering', 18, BLUE);

const legA = [51,101,151,201,251,301,349,418,468,518,568,618,668];
const legB = [778,828,879,929,979,1029,1078,1145,1196,1246,1296,1346,1396];
TIME_LABELS.forEach((t, i) => {
  txt(1273, legA[i], t, 15, SERIES_COLORS[i]);
  txt(1277, legB[i], t, 15, SERIES_COLORS[i]);
});
if (warn.length) txt(300, 720, 'LEN: ' + warn.join('; '), 12, '#f00');

Plotly.newPlot('chart', traces, layout, {staticPlot: true, displayModeBar: false});
</script>
</body></html>
